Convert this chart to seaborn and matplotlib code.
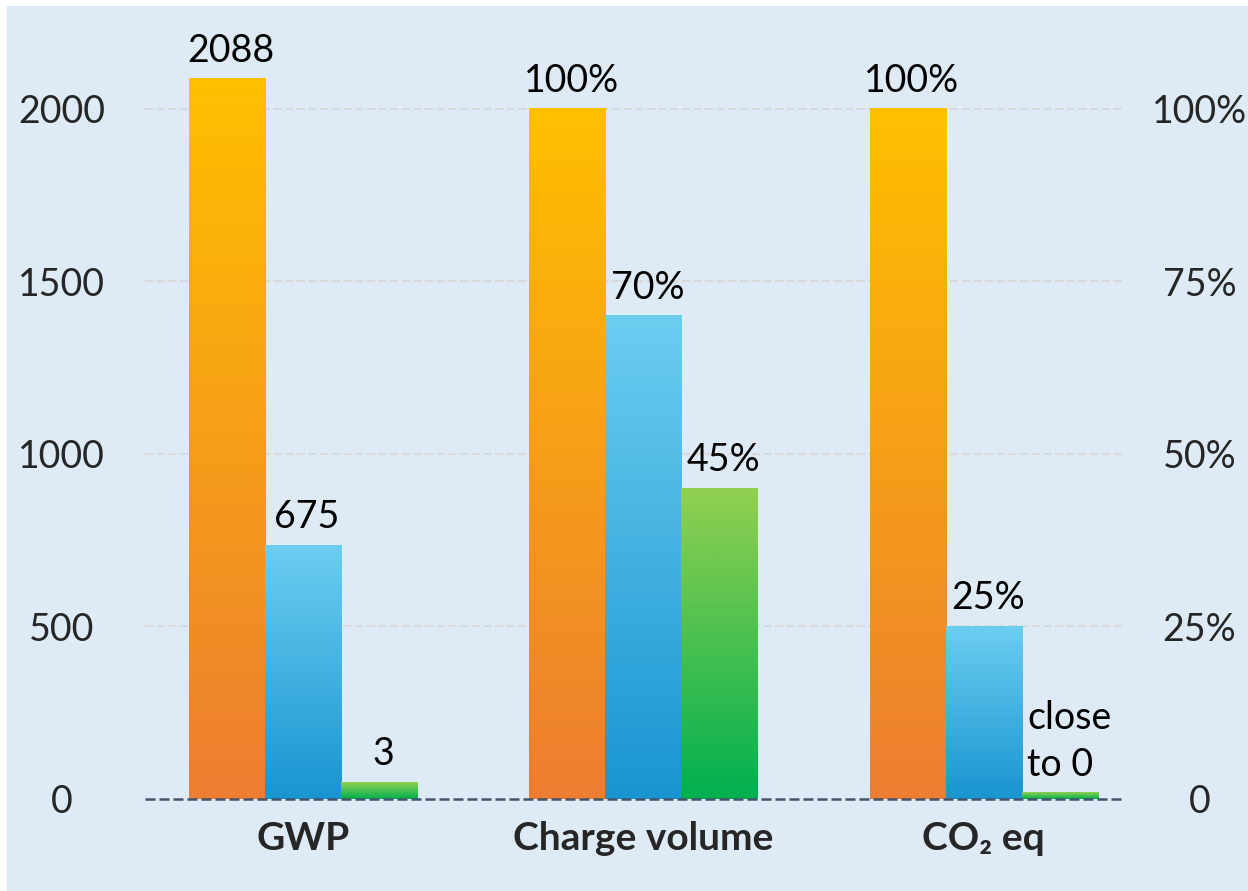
import matplotlib
matplotlib.use("Agg")
import matplotlib.pyplot as plt
import seaborn as sns
import numpy as np
import pandas as pd
from matplotlib.colors import LinearSegmentedColormap
from matplotlib.patches import Rectangle

# ---------------- data ----------------
categories = ["GWP", "Charge volume", "CO\u2082 eq"]
series = ["Series 1", "Series 2", "Series 3"]
# GWP values in left-axis units; the other two groups in percent (right axis, 100% = 2000)
gwp_values = [2088, 736, 48]
charge_pct = [100, 70, 45]
co2_pct = [100, 25, 1]
pct_scale = 20  # 100 % on the right axis == 2000 on the left axis

labels_s1 = ["2088", "100%", "100%"]
labels_s2 = ["675", "70%", "25%"]
labels_s3 = ["3", "45%", "close\nto 0"]

left_ticks = [0, 500, 1000, 1500, 2000]
right_ticks = [0, 25, 50, 75, 100]
right_ticklabels = ["0", "25%", "50%", "75%", "100%"]

# ---------------- style ----------------
sns.set_theme(style="white")
plt.rcParams["font.family"] = ["Lato", "DejaVu Sans"]

grad_colors = [("#FFC000", "#ED7D31"), ("#6CCDF0", "#1995D1"), ("#92D050", "#00B050")]

rows = []
for s_i, s in enumerate(series):
    for c_i, cat in enumerate(categories):
        if c_i == 0:
            v = gwp_values[s_i]
        elif c_i == 1:
            v = charge_pct[s_i] * pct_scale
        else:
            v = co2_pct[s_i] * pct_scale
        rows.append({"category": cat, "series": s, "value": v})
df = pd.DataFrame(rows)

W, H = 1248, 891
fig = plt.figure(figsize=(W / 100, H / 100), dpi=100)
fig.patch.set_facecolor("white")
fig.patches.append(Rectangle((7 / W, 0), 1, (H - 6) / H, transform=fig.transFigure,
                             facecolor="#DEEAF6", edgecolor="none", zorder=-5))

ax = fig.add_axes([145 / W, (H - 798.7) / H, 978 / W, (798.7 - 60) / H])
ax.set_facecolor("none")

sns.barplot(data=df, x="category", y="value", hue="series", order=categories,
            hue_order=series, palette=[c[1] for c in grad_colors], width=0.67,
            gap=0, saturation=1, legend=False, ax=ax, zorder=2)

xlim = (-0.4634, 2.4088)
ylim = (0, 2141)

FS = 27
all_labels = [labels_s1, labels_s2, labels_s3]
for h_i, cont in enumerate(ax.containers):
    cmap = LinearSegmentedColormap.from_list("g%d" % h_i, [grad_colors[h_i][1], grad_colors[h_i][0]])
    for c_i, bar in enumerate(cont):
        x0, y0 = bar.get_x(), bar.get_y()
        w, h = bar.get_width(), bar.get_height()
        grad = np.linspace(0, 1, 256).reshape(-1, 1)
        ax.imshow(grad, extent=[x0, x0 + w, y0, y0 + h], origin="lower",
                  aspect="auto", cmap=cmap, zorder=2, interpolation="bicubic")
        bar.set_facecolor("none")
        bar.set_edgecolor("none")
        lab = all_labels[h_i][c_i]
        if "\n" in lab:
            ax.annotate(lab, (x0, y0 + h), xytext=(4, 6), textcoords="offset points",
                        ha="left", va="bottom", fontsize=FS, color="black",
                        linespacing=1.4)
        else:
            ax.annotate(lab, (x0 + w / 2, y0 + h), xytext=(3, 7), textcoords="offset points",
                        ha="center", va="bottom", fontsize=FS, color="black")

ax.set_xlim(*xlim)
ax.set_ylim(*ylim)

# grid lines
for t in left_ticks[1:]:
    ax.axhline(t, color="#D9D9D9", lw=1.5, ls=(0, (4, 1.6)), zorder=1)
ax.axhline(0, color="#44546A", lw=1.8, ls=(0, (4, 1.6)), zorder=4, clip_on=False)

for sp in ax.spines.values():
    sp.set_visible(False)

ax.set_yticks(left_ticks)
ax.set_yticklabels([str(t) for t in left_ticks], fontsize=FS, ha="center")
ax.tick_params(axis="y", length=0, pad=60)
ax.set_xticks(range(len(categories)))
ax.set_xticklabels(categories, fontsize=28, fontweight="bold")
ax.tick_params(axis="x", length=0, pad=16)
ax.set_xlabel("")
ax.set_ylabel("")

ax2 = ax.twinx()
ax2.set_ylim(ylim[0] / pct_scale, ylim[1] / pct_scale)
ax2.set_yticks(right_ticks)
ax2.set_yticklabels(right_ticklabels, fontsize=FS, ha="center")
ax2.tick_params(axis="y", length=0, pad=55)
for sp in ax2.spines.values():
    sp.set_visible(False)
ax2.grid(False)

fig.savefig("out.png", dpi=100)
